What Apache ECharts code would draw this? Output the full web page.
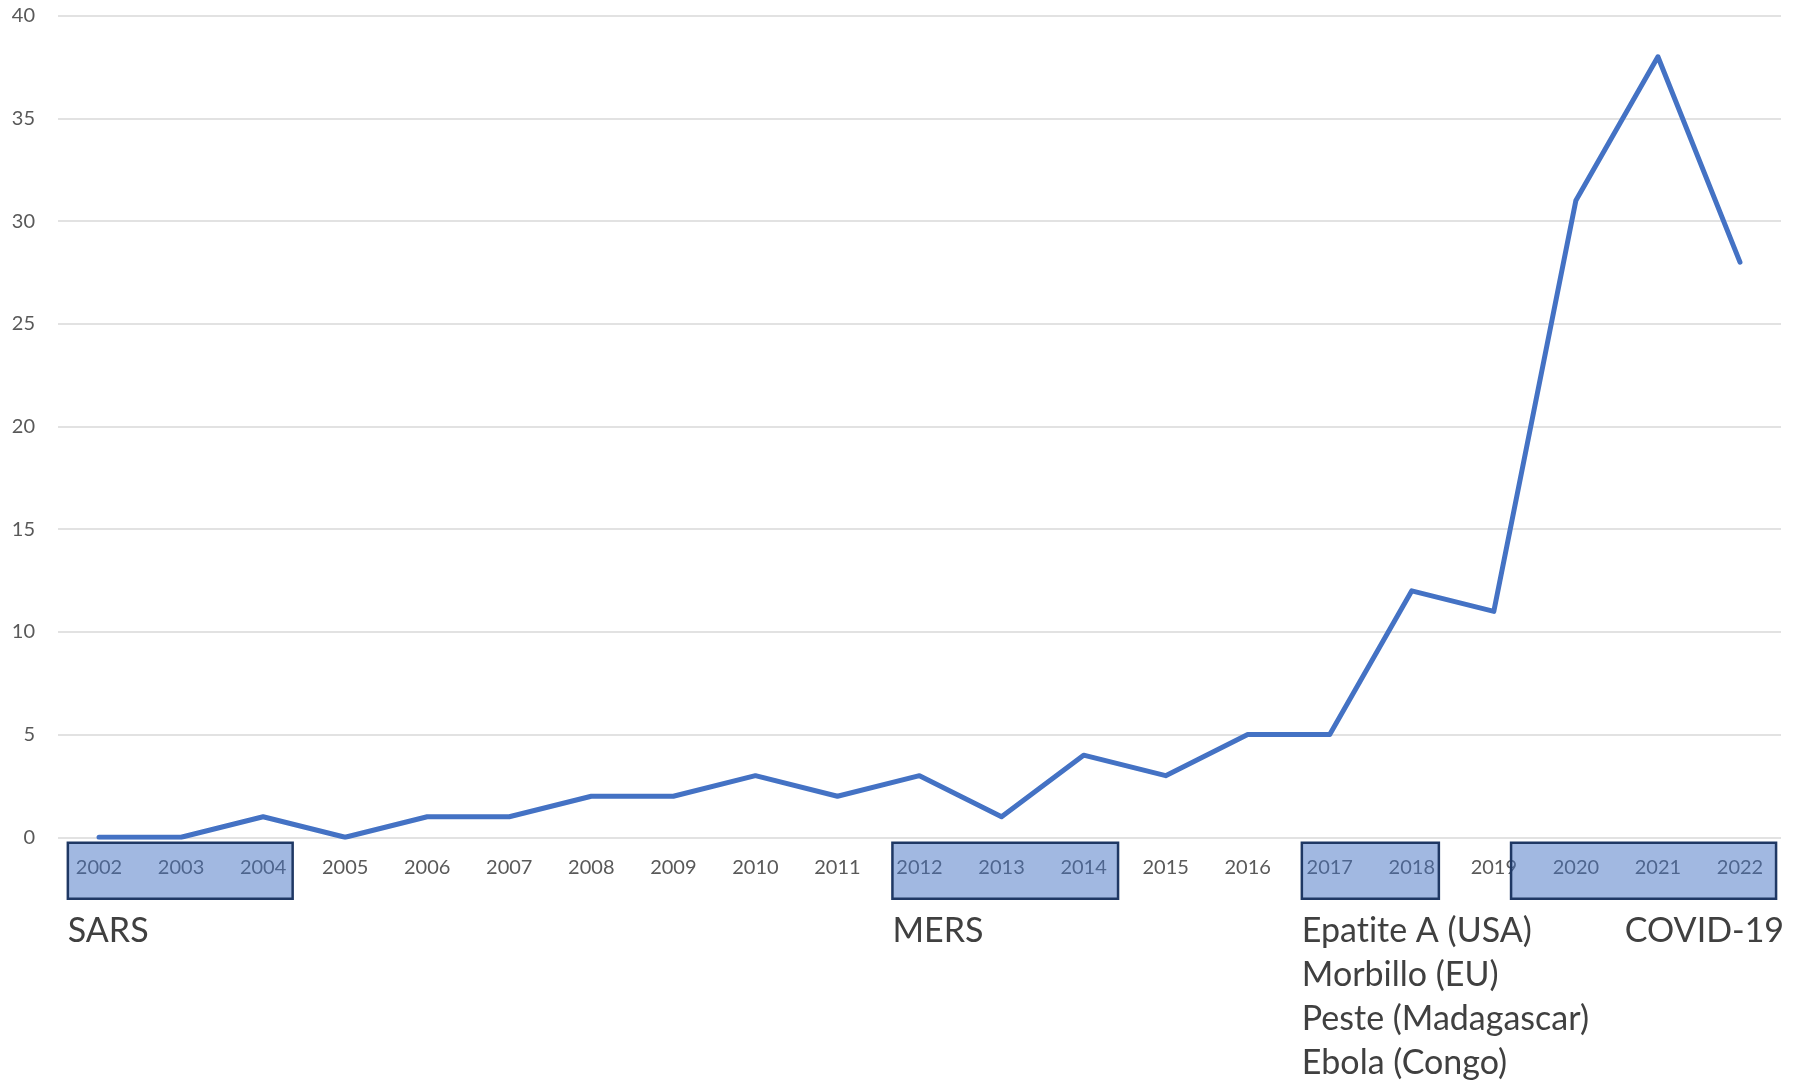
<!DOCTYPE html>
<html>
<head>
<meta charset="utf-8">
<script src="https://cdn.jsdelivr.net/npm/echarts@6/dist/echarts.min.js"></script>
<style>
  html, body { margin: 0; padding: 0; background: #ffffff; }
  #chart { width: 1793px; height: 1088px; }
</style>
</head>
<body>
<div id="chart"></div>
<script>
// Years on the category axis
const years = ['2002','2003','2004','2005','2006','2007','2008','2009','2010','2011',
               '2012','2013','2014','2015','2016','2017','2018','2019','2020','2021','2022'];

// Yearly counts
const counts = [0, 0, 1, 0, 1, 1, 2, 2, 3, 2, 3, 1, 4, 3, 5, 5, 12, 11, 31, 38, 28];

// Outbreak periods: first and last year covered, and the caption shown below
// (a zero-width non-joiner keeps "ti" from fusing into a ligature)
const periodStart = ['2002', '2012', '2017', '2020'];
const periodEnd   = ['2004', '2014', '2018', '2022'];
const periodText  = [
  'SARS',
  'MERS',
  'Epat\u200Cite A (USA)\nMorbillo (EU)\nPeste (Madagascar)\nEbola (Congo)',
  'COVID-19'
];

// Box padding around each period, in category widths (left, right)
const boxPad = [[-0.38, 0.36], [-0.33, 0.42], [-0.34, 0.33], [-0.79, 0.44]];
// Caption anchor: 'left' hangs from the box's left edge, 'right' ends just past the box's right edge
const captionAlign = ['left', 'left', 'left', 'right'];

const chart = echarts.init(document.getElementById('chart'), null, { renderer: 'canvas' });

const labelFont = 'Lato, "Open Sans", "Noto Sans", sans-serif';

chart.setOption({
  animation: false,
  backgroundColor: '#ffffff',
  grid: { left: 58, right: 12, top: 15.7, bottom: 250.7, containLabel: false },
  xAxis: {
    type: 'category',
    data: years,
    boundaryGap: true,
    axisLine: { show: false },
    axisTick: { show: false },
    axisLabel: { color: '#595959', fontSize: 20, fontFamily: labelFont, margin: 20, interval: 0 },
    splitLine: { show: false }
  },
  yAxis: {
    type: 'value',
    min: 0,
    max: 40,
    interval: 5,
    axisLine: { show: false },
    axisTick: { show: false },
    axisLabel: { color: '#595959', fontSize: 20, fontFamily: labelFont, margin: 23 },
    splitLine: { lineStyle: { color: '#d9d9d9', width: 1.5 } }
  },
  series: [{
    type: 'line',
    data: counts,
    symbol: 'none',
    lineStyle: { color: '#4472c4', width: 5, cap: 'round', join: 'round' },
    z: 3
  }]
});

// Highlight boxes and captions placed from the category axis scale
function drawPeriods() {
  const zeroY = chart.convertToPixel({ yAxisIndex: 0 }, 0);
  const step = chart.convertToPixel({ xAxisIndex: 0 }, years[1]) -
               chart.convertToPixel({ xAxisIndex: 0 }, years[0]);
  const graphics = [];
  periodStart.forEach(function (start, k) {
    const c0 = chart.convertToPixel({ xAxisIndex: 0 }, start);
    const c1 = chart.convertToPixel({ xAxisIndex: 0 }, periodEnd[k]);
    const x0 = c0 + boxPad[k][0] * step;
    const x1 = c1 + boxPad[k][1] * step;
    graphics.push({
      type: 'rect',
      z: 100,
      shape: { x: x0, y: zeroY + 5.5, width: x1 - x0, height: 56 },
      style: { fill: 'rgba(68,114,196,0.5)', stroke: '#1f3864', lineWidth: 2.5 }
    });
    const right = captionAlign[k] === 'right';
    graphics.push({
      type: 'text',
      z: 100,
      x: right ? x1 + 8 : x0,
      y: zeroY + 72,
      style: {
        text: periodText[k],
        fill: '#404040',
        font: '34px ' + labelFont,
        lineHeight: 44,
        verticalAlign: 'top',
        align: captionAlign[k]
      }
    });
  });
  chart.setOption({ graphic: graphics });
}

drawPeriods();
</script>
</body>
</html>
